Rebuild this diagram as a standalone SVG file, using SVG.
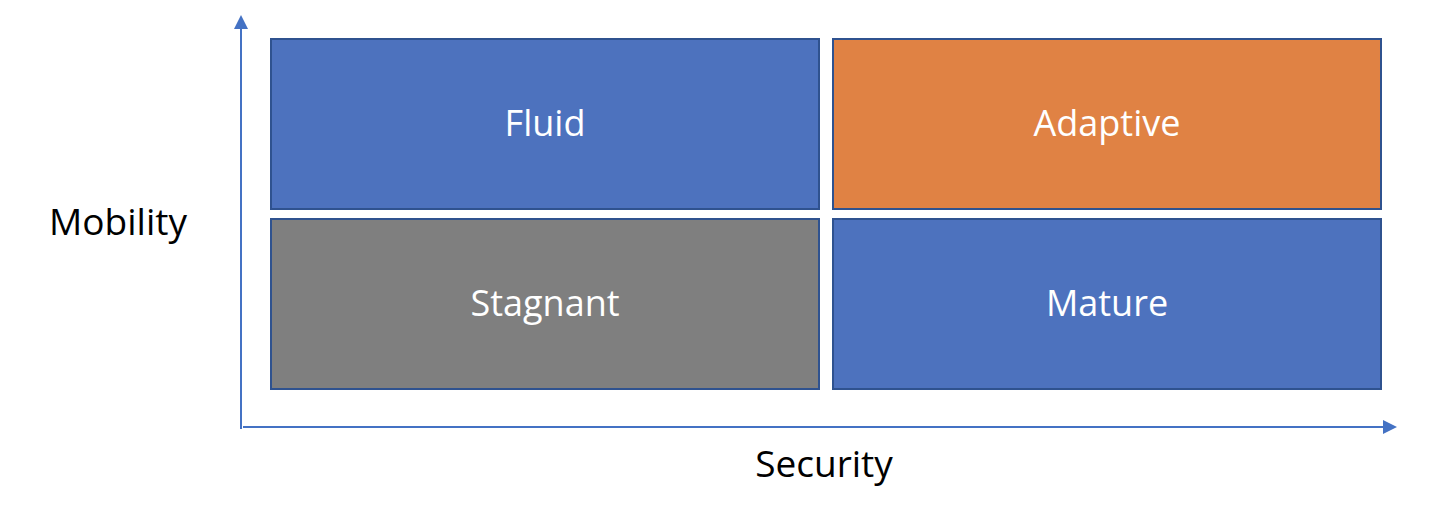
<svg xmlns="http://www.w3.org/2000/svg" width="1454" height="510" viewBox="0 0 1454 510">
  <style>
    .box { stroke: #2F528F; stroke-width: 2; }
    .blue { fill: #4D72BE; }
    .orange { fill: #E08244; }
    .gray { fill: #7F7F7F; }
    .lbl { font-family: "Open Sans", "Liberation Sans", sans-serif; font-size: 36px; fill: #FFFFFF; text-anchor: middle; }
    .axis-lbl { font-family: "Open Sans", "Liberation Sans", sans-serif; font-size: 37px; fill: #000000; text-anchor: middle; }
    .axis { stroke: #4472C4; stroke-width: 2; fill: none; }
  </style>
  <defs>
    <marker id="arrow" viewBox="0 0 14 14" refX="0" refY="7" markerWidth="14" markerHeight="14" markerUnits="userSpaceOnUse" orient="auto">
      <path d="M0,0 L14,7 L0,14 Z" fill="#4472C4"/>
    </marker>
  </defs>
  <g id="connectors">
    <line class="axis" x1="241" y1="429" x2="241" y2="29" marker-end="url(#arrow)"/>
    <line class="axis" x1="243" y1="427" x2="1383" y2="427" marker-end="url(#arrow)"/>
  </g>
  <g id="fluid">
    <rect class="box blue" x="271" y="39" width="548" height="170"/>
    <text class="lbl" x="545" y="136">Fluid</text>
  </g>
  <g id="adaptive">
    <rect class="box orange" x="833" y="39" width="548" height="170"/>
    <text class="lbl" x="1107" y="136">Adaptive</text>
  </g>
  <g id="stagnant">
    <rect class="box gray" x="271" y="219" width="548" height="170"/>
    <text class="lbl" x="545" y="316">Stagnant</text>
  </g>
  <g id="mature">
    <rect class="box blue" x="833" y="219" width="548" height="170"/>
    <text class="lbl" x="1107" y="316">Mature</text>
  </g>
  <g id="mobility-label">
    <text class="axis-lbl" x="118" y="235">Mobility</text>
  </g>
  <g id="security-label">
    <text class="axis-lbl" x="824" y="477">Security</text>
  </g>
</svg>
